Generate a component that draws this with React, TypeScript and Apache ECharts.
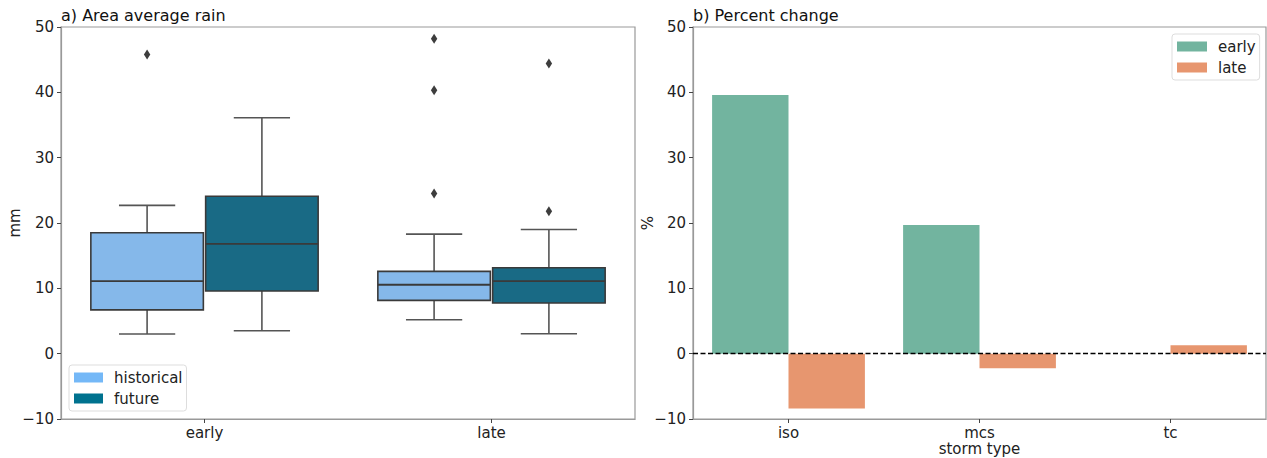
import React, { useEffect, useRef } from "react";
import * as echarts from "echarts";

// ---------- Data ----------
const rainCategories = ["early", "late"];
// [low whisker, Q1, median, Q3, high whisker]
const historicalStats = [
  [3.0, 6.7, 11.1, 18.5, 22.7],
  [5.2, 8.15, 10.55, 12.6, 18.3],
];
const futureStats = [
  [3.5, 9.6, 16.8, 24.1, 36.1],
  [3.05, 7.75, 11.1, 13.15, 19.0],
];
// [category index, value]
const historicalOutliers = [
  [0, 45.8],
  [1, 48.2],
  [1, 40.3],
  [1, 24.5],
];
const futureOutliers = [
  [1, 44.4],
  [1, 21.8],
];

const stormTypes = ["iso", "mcs", "tc"];
const earlyChange: (number | null)[] = [39.6, 19.7, null];
const lateChange = [-8.4, -2.25, 1.3];

const yTicksMin = -10;
const yTicksMax = 50;
const yTickStep = 10;

// ---------- Styles ----------
const FONT = "DejaVu Sans";
const histFill = "#85b8ea";
const futFill = "#196a85";
const histLegend = "#74b8f7";
const futLegend = "#00728f";
const edgeColor = "#3a3a3a";
const whiskerColor = "#555555";
const earlyColor = "#72b49f";
const lateColor = "#e7966f";
const spine = "#999999";

const fmtMinus = (v: number) => (v < 0 ? "\u2212" + Math.abs(v) : String(v));

function boxRenderer(offsetFrac: number, fill: string) {
  return (params: any, api: any) => {
    const cat = api.value(0);
    const low = api.value(1);
    const q1 = api.value(2);
    const med = api.value(3);
    const q3 = api.value(4);
    const high = api.value(5);
    const band = api.size([1, 0])[0];
    const cx = api.coord([cat, med])[0] + offsetFrac * band;
    const w = band * 0.4 * 0.98;
    const capW = w / 2;
    const yLow = api.coord([cat, low])[1];
    const yQ1 = api.coord([cat, q1])[1];
    const yMed = api.coord([cat, med])[1];
    const yQ3 = api.coord([cat, q3])[1];
    const yHigh = api.coord([cat, high])[1];
    const lineStyle = { stroke: whiskerColor, lineWidth: 1.6 };
    return {
      type: "group",
      children: [
        { type: "line", shape: { x1: cx, y1: yQ3, x2: cx, y2: yHigh }, style: lineStyle },
        { type: "line", shape: { x1: cx, y1: yQ1, x2: cx, y2: yLow }, style: lineStyle },
        { type: "line", shape: { x1: cx - capW / 2, y1: yHigh, x2: cx + capW / 2, y2: yHigh }, style: lineStyle },
        { type: "line", shape: { x1: cx - capW / 2, y1: yLow, x2: cx + capW / 2, y2: yLow }, style: lineStyle },
        {
          type: "rect",
          shape: { x: cx - w / 2, y: yQ3, width: w, height: yQ1 - yQ3 },
          style: { fill, stroke: edgeColor, lineWidth: 1.6 },
        },
        {
          type: "line",
          shape: { x1: cx - w / 2, y1: yMed, x2: cx + w / 2, y2: yMed },
          style: { stroke: edgeColor, lineWidth: 1.8 },
        },
      ],
    };
  };
}

function outlierRenderer(offsetFrac: number) {
  return (params: any, api: any) => {
    const cat = api.value(0);
    const v = api.value(1);
    const band = api.size([1, 0])[0];
    const p = api.coord([cat, v]);
    const cx = p[0] + offsetFrac * band;
    const cy = p[1];
    const hw = 3.2;
    const hh = 5;
    return {
      type: "polygon",
      shape: {
        points: [
          [cx, cy - hh],
          [cx + hw, cy],
          [cx, cy + hh],
          [cx - hw, cy],
        ],
      },
      style: { fill: "#3d3d3d" },
    };
  };
}

const axisText = { fontFamily: FONT, fontSize: 15, color: "#222" };

export default function App() {
  const ref = useRef<HTMLDivElement>(null);
  useEffect(() => {
    if (!ref.current) return;
    const chart = echarts.init(ref.current, undefined, { renderer: "svg" });

    const yAxisCommon = {
      type: "value",
      min: yTicksMin,
      max: yTicksMax,
      interval: yTickStep,
      nameLocation: "middle",
      nameRotate: 90,
      nameMoveOverlap: false,
      nameTextStyle: { fontFamily: FONT, fontSize: 15, color: "#222" },
      axisLine: { show: true, lineStyle: { color: spine, width: 1.2 } },
      axisTick: { show: true, length: 4, lineStyle: { color: "#444" } },
      axisLabel: { ...axisText, margin: 7, formatter: fmtMinus },
      splitLine: { show: false },
    };

    const option: any = {
      animation: false,
      backgroundColor: "#fff",
      textStyle: { fontFamily: FONT },
      title: [
        {
          text: "a) Area average rain",
          left: 61,
          top: 7,
          padding: 0,
          textStyle: { fontFamily: FONT, fontSize: 16, fontWeight: "normal", color: "#111" },
        },
        {
          text: "b) Percent change",
          left: 693,
          top: 7,
          padding: 0,
          textStyle: { fontFamily: FONT, fontSize: 16, fontWeight: "normal", color: "#111" },
        },
      ],
      grid: [
        { left: 61, top: 27, width: 574, height: 392, show: true, borderColor: spine, borderWidth: 1.2, backgroundColor: "transparent", containLabel: false, outerBoundsMode: "none" },
        { left: 693, top: 27, width: 573, height: 392, show: true, borderColor: spine, borderWidth: 1.2, backgroundColor: "transparent", containLabel: false, outerBoundsMode: "none" },
      ],
      xAxis: [
        {
          type: "category",
          gridIndex: 0,
          data: rainCategories,
          axisLine: { show: true, onZero: false, lineStyle: { color: spine, width: 1.2 } },
          axisTick: { show: true, length: 4, alignWithLabel: true, lineStyle: { color: "#444" } },
          axisLabel: { ...axisText, margin: 6 },
        },
        {
          type: "category",
          gridIndex: 1,
          data: stormTypes,
          name: "storm type",
          nameLocation: "middle",
          nameGap: 22,
          nameMoveOverlap: false,
          nameTextStyle: { fontFamily: FONT, fontSize: 15, lineHeight: 15, color: "#222" },
          axisLine: { show: true, onZero: false, lineStyle: { color: spine, width: 1.2 } },
          axisTick: { show: true, length: 4, alignWithLabel: true, lineStyle: { color: "#444" } },
          axisLabel: { ...axisText, margin: 6 },
        },
      ],
      yAxis: [
        { ...yAxisCommon, gridIndex: 0, name: "mm", nameGap: 39 },
        { ...yAxisCommon, gridIndex: 1, name: "%", nameGap: 38 },
      ],
      legend: [
        {
          left: 69,
          top: 365,
          orient: "vertical",
          itemWidth: 29,
          itemHeight: 10,
          itemGap: 6,
          padding: [5, 4, 5, 5],
          borderColor: "#dddddd",
          borderWidth: 1,
          borderRadius: 3,
          backgroundColor: "#ffffff",
          textStyle: { fontFamily: FONT, fontSize: 15, color: "#222", padding: [0, 0, 0, 6] },
          data: [
            { name: "historical", icon: "rect", itemStyle: { color: histLegend } },
            { name: "future", icon: "rect", itemStyle: { color: futLegend } },
          ],
          selectedMode: false,
        },
        {
          left: 1172,
          top: 34,
          orient: "vertical",
          itemWidth: 30,
          itemHeight: 10,
          itemGap: 6,
          padding: [5, 4, 5, 5],
          borderColor: "#dddddd",
          borderWidth: 1,
          borderRadius: 3,
          backgroundColor: "#ffffff",
          textStyle: { fontFamily: FONT, fontSize: 15, color: "#222", padding: [0, 0, 0, 6] },
          data: [
            { name: "early", icon: "rect", itemStyle: { color: earlyColor } },
            { name: "late", icon: "rect", itemStyle: { color: lateColor } },
          ],
          selectedMode: false,
        },
      ],
      series: [
        {
          name: "historical",
          type: "custom",
          xAxisIndex: 0,
          yAxisIndex: 0,
          renderItem: boxRenderer(-0.2, histFill),
          encode: { x: 0, y: [1, 2, 3, 4, 5] },
          data: historicalStats.map((s, i) => [i, ...s]),
          itemStyle: { color: histLegend },
        },
        {
          name: "future",
          type: "custom",
          xAxisIndex: 0,
          yAxisIndex: 0,
          renderItem: boxRenderer(0.2, futFill),
          encode: { x: 0, y: [1, 2, 3, 4, 5] },
          data: futureStats.map((s, i) => [i, ...s]),
          itemStyle: { color: futLegend },
        },
        {
          name: "historical outliers",
          type: "custom",
          xAxisIndex: 0,
          yAxisIndex: 0,
          renderItem: outlierRenderer(-0.2),
          encode: { x: 0, y: 1 },
          data: historicalOutliers,
        },
        {
          name: "future outliers",
          type: "custom",
          xAxisIndex: 0,
          yAxisIndex: 0,
          renderItem: outlierRenderer(0.2),
          encode: { x: 0, y: 1 },
          data: futureOutliers,
        },
        {
          name: "early",
          type: "bar",
          xAxisIndex: 1,
          yAxisIndex: 1,
          data: earlyChange,
          barGap: "0%",
          barCategoryGap: "20%",
          itemStyle: { color: earlyColor },
        },
        {
          name: "late",
          type: "bar",
          xAxisIndex: 1,
          yAxisIndex: 1,
          data: lateChange,
          barGap: "0%",
          barCategoryGap: "20%",
          itemStyle: { color: lateColor },
          markLine: {
            silent: true,
            symbol: ["none", "none"],
            label: { show: false },
            lineStyle: { color: "#000", type: [5, 2.5], width: 1.3 },
            data: [{ yAxis: 0 }],
            z: 10,
          },
        },
      ],
    };
    chart.setOption(option);
    return () => chart.dispose();
  }, []);

  return (
    <div
      ref={ref}
      style={{ position: "absolute", left: 0, top: 0, width: 1267, height: 458, background: "#fff" }}
    />
  );
}
